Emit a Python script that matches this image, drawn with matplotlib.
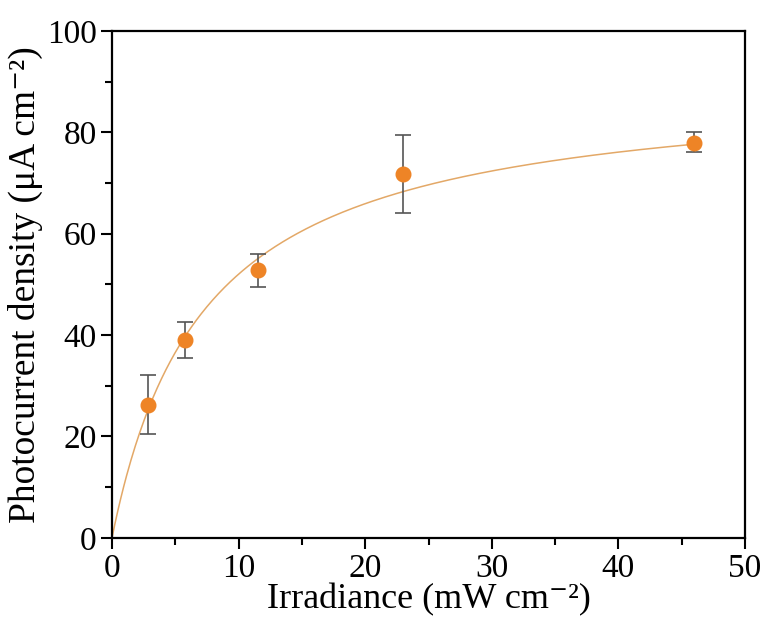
import numpy as np
import matplotlib
matplotlib.use("Agg")
import matplotlib.pyplot as plt
from matplotlib.ticker import MultipleLocator

plt.rcParams['font.family'] = ['Liberation Serif', 'DejaVu Serif']

irradiance = [2.875, 5.75, 11.5, 23.0, 46.0]
photocurrent = [26.2, 39.1, 52.8, 71.8, 78.0]
err_low = [5.8, 3.6, 3.3, 7.7, 1.8]
err_high = [5.9, 3.5, 3.2, 7.6, 2.1]

# saturation fit parameters (j = jmax * I / (K + I))
fit_jmax = 90.0
fit_K = 7.3

fig = plt.figure(figsize=(7.63, 6.21), dpi=100)
ax = fig.add_axes([0.1468, 0.134, 0.8296, 0.816])

xf = np.linspace(0, 46, 400)
yf = fit_jmax * xf / (fit_K + xf)
ax.plot(xf, yf, color='#E3A867', lw=1.1, zorder=2)

ax.errorbar(irradiance, photocurrent, yerr=[err_low, err_high], fmt='none',
            ecolor='#555555', elinewidth=1.2, capsize=6, capthick=1.2, zorder=3)
ax.plot(irradiance, photocurrent, 'o', color='#EE8426', markersize=10.5, zorder=4)

ax.set_xlim(0, 50)
ax.set_ylim(0, 100)
ax.xaxis.set_major_locator(MultipleLocator(10))
ax.xaxis.set_minor_locator(MultipleLocator(5))
ax.yaxis.set_major_locator(MultipleLocator(20))
ax.yaxis.set_minor_locator(MultipleLocator(10))
ax.tick_params(which='major', direction='out', length=8, width=1.5, labelsize=24, pad=3)
ax.tick_params(which='minor', direction='out', length=5, width=1.5)
for s in ax.spines.values():
    s.set_linewidth(1.6)

ax.set_xlabel('Irradiance (mW cm\u207b\u00b2)', fontsize=26, labelpad=0)
ax.set_ylabel('Photocurrent density (\u03bcA cm\u207b\u00b2)', fontsize=27, labelpad=3)

fig.savefig('out.png', dpi=100)
